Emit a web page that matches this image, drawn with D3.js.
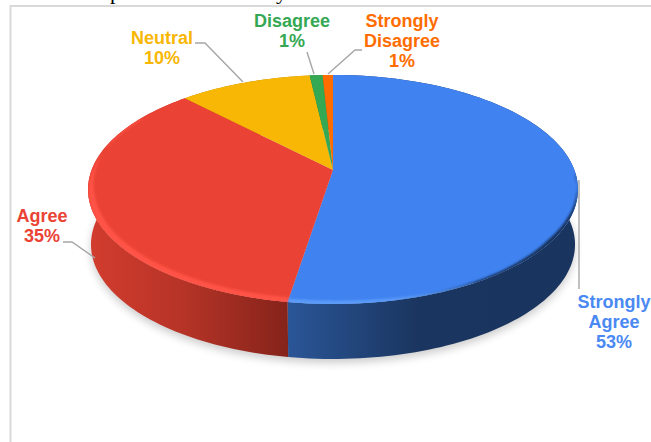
<!DOCTYPE html>
<html lang="en">
<head>
<meta charset="UTF-8">
<title>Survey responses pie</title>
<script src="https://d3js.org/d3.v7.min.js"></script>
<style>
  html, body { margin: 0; padding: 0; background: #fff; overflow: hidden; }
  svg { display: block; }
  text { font-family: "Liberation Sans", Arial, sans-serif; font-weight: bold; font-size: 18px; text-anchor: middle; }
</style>
</head>
<body>
<div id="chart"></div>
<script>
// Values (slices run clockwise from 12 o'clock)
const categories = ["Strongly Agree", "Agree", "Neutral", "Disagree", "Strongly Disagree"];
const shares = [52.5, 35.4, 10.3, 1.0, 0.8];
const percentLabels = ["53%", "35%", "10%", "1%", "1%"];
const colors = ["#3f82f0", "#ea4335", "#f8b704", "#34a853", "#ff6d01"];
const labelLines = [["Strongly", "Agree"], ["Agree"], ["Neutral"], ["Disagree"], ["Strongly", "Disagree"]];

const width = 651, height = 442;
const svg = d3.select("#chart").append("svg").attr("width", width).attr("height", height);
const defs = svg.append("defs");

// frame of the embedded chart
svg.append("path").attr("d", "M10.5,442V6H651").attr("fill", "none").attr("stroke", "#d9d9d9").attr("stroke-width", 2);

// scrap of the document text above the chart
svg.append("text").attr("x", 110).attr("y", -1).style("font-family", "Liberation Serif")
  .style("font-weight", "normal").style("text-anchor", "start").style("font-size", "22px").text("p");
svg.append("text").attr("x", 276).attr("y", -1).style("font-family", "Liberation Serif")
  .style("font-weight", "normal").style("text-anchor", "start").style("font-size", "22px").text("y");

// tilted disc: a flat circle through a small perspective
const cx = 333, cy = 170, A = 241.4, B = 111.2, k = 0.17, depth = 54;
function project(angle, r = 1, drop = 0) {
  const u = Math.sin(angle) * r, v = -Math.cos(angle) * r, w = 1 - k * v;
  const shrink = drop > 0 ? 0.988 : 1;
  return [cx + A * shrink * u / w, cy + B * v / w + drop];
}
const line = d3.line();
const pie = d3.pie().sort(null).value(d => d);
const slices = pie(shares);
function arcPoints(s, r, drop) {
  const n = Math.max(4, Math.ceil((s.endAngle - s.startAngle) * 40));
  return d3.range(n + 1).map(i => {
    const a = s.startAngle + (s.endAngle - s.startAngle) * i / n;
    return project(a, typeof r === "function" ? r(a) : r, drop);
  });
}
const whole = { startAngle: 0, endAngle: 2 * Math.PI };
const deg = d3.scaleLinear().domain([0, 360]).range([0, 2 * Math.PI]);

// blurred filters for shadow and rim
defs.append("filter").attr("id", "shadow").attr("x", "-10%").attr("y", "-10%").attr("width", "120%").attr("height", "130%")
  .append("feGaussianBlur").attr("stdDeviation", 4);
defs.append("filter").attr("id", "rim").attr("x", "-10%").attr("y", "-20%").attr("width", "120%").attr("height", "140%")
  .append("feGaussianBlur").attr("stdDeviation", 1.2);
defs.append("clipPath").attr("id", "topClip").append("path").attr("d", line(arcPoints(whole, 1, 0)) + "Z");

// wall gradients, dark towards the right like the reference
const redGrad = defs.append("linearGradient").attr("id", "wall1").attr("gradientUnits", "userSpaceOnUse")
  .attr("x1", 90).attr("x2", 290).attr("y1", 0).attr("y2", 0);
[[0, "#d23c2e"], [0.45, "#b73427"], [1, "#84231a"]].forEach(d => redGrad.append("stop").attr("offset", d[0]).attr("stop-color", d[1]));
const blueGrad = defs.append("linearGradient").attr("id", "wall0").attr("gradientUnits", "userSpaceOnUse")
  .attr("x1", 290).attr("x2", 579).attr("y1", 0).attr("y2", 0);
[[0, "#2a5596"], [0.45, "#1a355f"], [1, "#19345e"]].forEach(d => blueGrad.append("stop").attr("offset", d[0]).attr("stop-color", d[1]));

// shadow under the pie
svg.append("path").attr("d", line(arcPoints(whole, 1, depth + 5)) + "Z")
  .attr("fill", "#000").attr("opacity", 0.2).attr("filter", "url(#shadow)");

// walls
svg.selectAll(".wall").data(slices).join("path").attr("class", "wall")
  .attr("d", s => line(arcPoints(s, 1, 0).concat(arcPoints(s, 1, depth + 1).reverse())) + "Z")
  .attr("fill", (s, i) => i < 2 ? `url(#wall${i})` : d3.color(colors[i]).darker(1));

// top face
svg.selectAll(".slice").data(slices).join("path").attr("class", "slice")
  .attr("d", s => line([[cx, cy]].concat(arcPoints(s, 1, 0))) + "Z")
  .attr("fill", (s, i) => colors[i]);

// bevel crescents along the front rim: light on the red, dark then light on the blue
const rimGroup = svg.append("g").attr("clip-path", "url(#topClip)");
const bevels = [
  { startAngle: deg(189), endAngle: deg(300), stops: [189, 255, 300], inner: [0.978, 0.975, 1], lift: 1, fill: "#ff5346" },
  { startAngle: deg(92), endAngle: deg(168), stops: [92, 125, 168], inner: [1, 0.985, 1], lift: 0, fill: "#18305a" },
  { startAngle: deg(150), endAngle: deg(189), stops: [150, 175, 189], inner: [1, 0.98, 0.978], lift: 0, fill: "#5c9bf8" }
];
rimGroup.selectAll(".bevel").data(bevels).join("path").attr("class", "bevel")
  .attr("d", b => {
    const inner = d3.scaleLinear().domain(b.stops.map(deg)).range(b.inner);
    return line(arcPoints(b, 1.01, 2).concat(arcPoints(b, inner, -b.lift).reverse())) + "Z";
  })
  .attr("fill", b => b.fill).attr("filter", "url(#rim)");

// leader lines, label anchor to pie edge
const leaderStubs = [[[579, 289], [579, 180]], [[63, 242], [72, 242], [95, 258]], [[195, 43], [205, 43], [243, 82]], [[307, 52], [314, 74]], [[362, 50], [355, 50], [328, 74]]];
svg.selectAll(".leader").data(leaderStubs).join("path").attr("class", "leader")
  .attr("d", d => line(d)).attr("fill", "none").attr("stroke", "#a6a6a6").attr("stroke-width", 1.4);

// labels
const labelCenters = [[614, 302], [42, 216], [162, 38], [292, 21], [402, 21]];
const lineGap = 20;
slices.forEach((s, i) => {
  const t = svg.append("text").attr("fill", i === 0 ? "#4a89f3" : colors[i]);
  labelLines[i].concat(percentLabels[i]).forEach((str, j) => {
    t.append("tspan").attr("x", labelCenters[i][0]).attr("y", labelCenters[i][1] + 6 + j * lineGap).text(str);
  });
});
</script>
</body>
</html>
